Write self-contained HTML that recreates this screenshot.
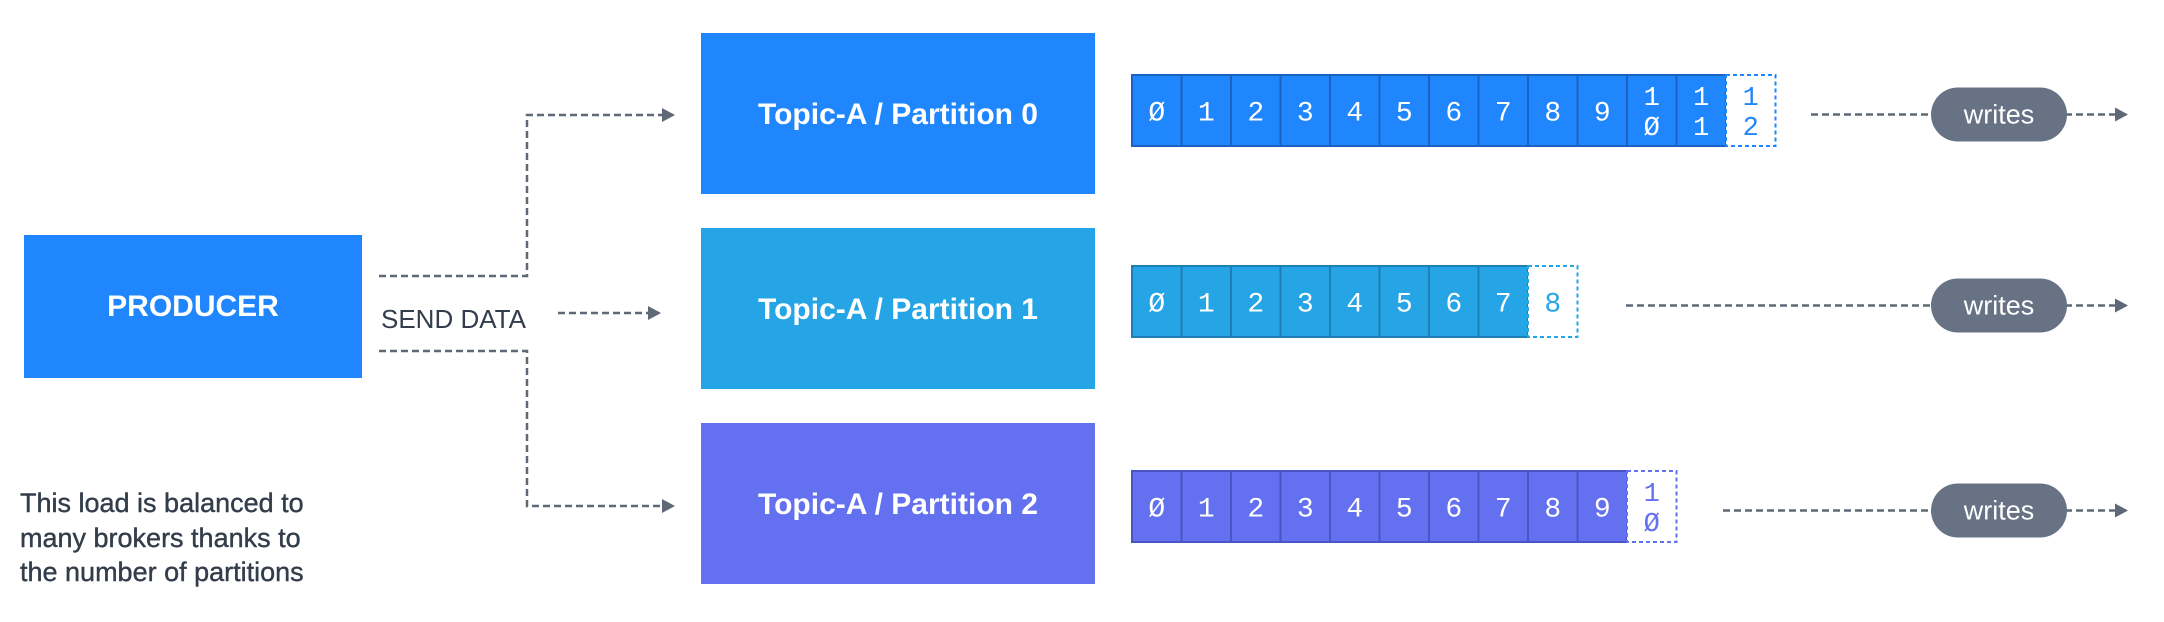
<!DOCTYPE html>
<html><head><meta charset="utf-8"><style>
html,body{margin:0;padding:0;background:#fff;}
svg{display:block;}
</style></head><body>
<svg id="d" width="2164" height="622" viewBox="0 0 2164 622" xmlns="http://www.w3.org/2000/svg" font-family="Liberation Sans, sans-serif">
<defs>
<marker id="ah" markerWidth="14" markerHeight="14" refX="11" refY="7" orient="auto" markerUnits="userSpaceOnUse"><path d="M0,0 L13,7 L0,14 z" fill="#5f6877"/></marker>
</defs>
<g id="left">
<rect x="24" y="235" width="338" height="143" fill="#1f86fd"/>
<text x="193" y="316" text-anchor="middle" fill="#fff" font-size="30" font-weight="bold">PRODUCER</text>
<text x="381" y="328" fill="#333d4b" font-size="26">SEND DATA</text>
<g fill="none" stroke="#5f6877" stroke-width="2.5" stroke-dasharray="7,4">
<path d="M379,276 H527 V115 H673" marker-end="url(#ah)"/>
<path d="M558,313 H659" marker-end="url(#ah)"/>
<path d="M379,351 H527 V506 H673" marker-end="url(#ah)"/>
</g>
<text fill="#333d4b" font-size="27" stroke="#333d4b" stroke-width="0.4">
<tspan x="20" y="512">This load is balanced to</tspan>
<tspan x="20" y="547">many brokers thanks to</tspan>
<tspan x="20" y="581">the number of partitions</tspan>
</text>
</g>
<g id="rows"></g>
</svg>
<script>
const partitionNames = ["Topic-A / Partition 0","Topic-A / Partition 1","Topic-A / Partition 2"];
const offsetCounts = [12, 8, 10];
const colors = ["#1f86fd","#25a4e6","#6370ef"];
const borders = ["#1a63c4","#1d7fb5","#4a54c2"];
const boxTops = [33, 228, 423];
const cellTops = [75, 266, 471];
const lineStarts = [1811, 1626, 1723];
const NS = "http://www.w3.org/2000/svg";
const g = document.getElementById("rows");
function mk(tag, attrs){const e=document.createElementNS(NS,tag);for(const k in attrs)e.setAttribute(k,attrs[k]);return e;}
const cellW = 49.5, cellH = 71, cellX0 = 1132;
partitionNames.forEach((name,i)=>{
  const box = mk("rect",{x:701,y:boxTops[i],width:394,height:161,fill:colors[i]});
  
  
  g.appendChild(box);
  const t = mk("text",{x:898,y:boxTops[i]+91,"text-anchor":"middle",fill:"#fff","font-size":"30","font-weight":"bold"});
  t.textContent = name;
  
  
  g.appendChild(t);
  const y = cellTops[i];
  const n = offsetCounts[i];
  for(let k=0;k<=n;k++){
    const x = cellX0 + k*cellW;
    const isNew = k===n;
    const r = mk("rect",{x:x,y:y,width:cellW,height:cellH,fill:isNew?"#fff":colors[i],stroke:isNew?colors[i]:borders[i],"stroke-width":"2"});
    if(isNew) r.setAttribute("stroke-dasharray","4,3");
    
    
    g.appendChild(r);
    const s = String(k).replace(/0/g,"\u00d8");
    const fill = isNew ? colors[i] : "#fff";
    if(s.length===1){
      const tx = mk("text",{x:x+cellW/2,y:y+cellH/2+10,"text-anchor":"middle",fill:fill,"font-size":"28","font-family":"Liberation Mono, monospace"});
      tx.textContent = s;
      
      
      g.appendChild(tx);
    } else {
      s.split("").forEach((ch,j)=>{
        const tx = mk("text",{x:x+cellW/2,y:y+30+j*30,"text-anchor":"middle",fill:fill,"font-size":"27","font-family":"Liberation Mono, monospace"});
        tx.textContent = ch;
        
        
        g.appendChild(tx);
      });
    }
  }
  const cy = y + cellH/2 + 4;
  const l1 = mk("line",{x1:lineStarts[i],y1:cy,x2:1931,y2:cy,stroke:"#5f6877","stroke-width":"2.5","stroke-dasharray":"7,4"});
  
  
  g.appendChild(l1);
  const l2 = mk("line",{x1:2065,y1:cy,x2:2126,y2:cy,stroke:"#5f6877","stroke-width":"2.5","stroke-dasharray":"7,4","marker-end":"url(#ah)"});
  
  
  g.appendChild(l2);
  const p = mk("rect",{x:1931,y:cy-27,width:136,height:54,rx:27,fill:"#677284"});
  
  
  g.appendChild(p);
  const pt = mk("text",{x:1999,y:cy+9,"text-anchor":"middle",fill:"#fff","font-size":"27"});
  pt.textContent = "writes";
  
  
  g.appendChild(pt);
});
</script>
</body></html>
